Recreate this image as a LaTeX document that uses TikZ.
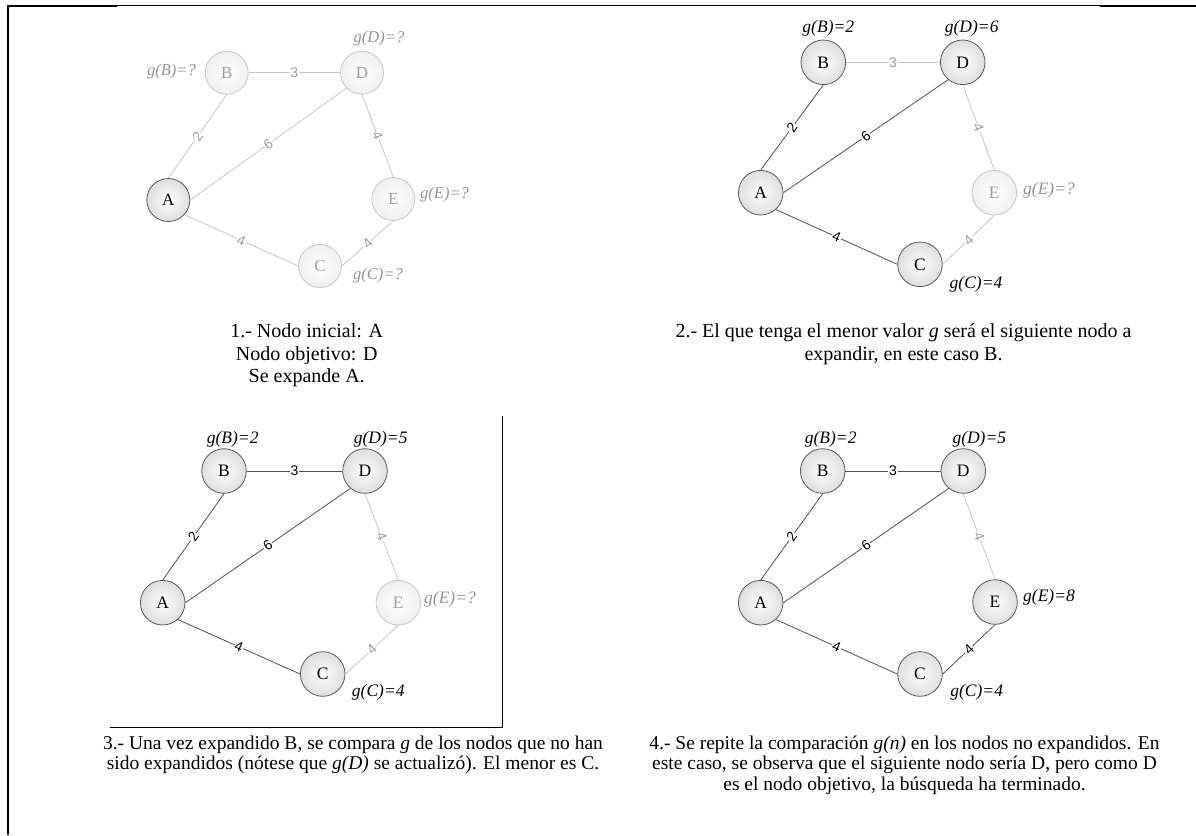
\documentclass[tikz,border=0pt]{standalone}
\usepackage{fontspec}
\setmainfont{Liberation Serif}
\newfontfamily\numfont{Liberation Sans}
\begin{document}
\begin{tikzpicture}[x=1pt,y=-1pt,
  nd/.style={circle, minimum size=44.6pt, inner sep=0pt, draw=black!65, line width=0.8pt,
    shading=radial, inner color=white, outer color=black!13, text=black,
    font=\fontsize{17.5}{17.5}\selectfont},
  ndf/.style={nd, draw=black!22, outer color=black!6, text=black!38},
  small/.style={minimum size=43pt, font=\fontsize{17}{17}\selectfont},
  ed/.style={draw=black!68, line width=0.8pt},
  edf/.style={draw=black!22, line width=0.8pt},
  lab/.style={midway, sloped, fill=white, inner sep=0.8pt, text=black,
    font=\numfont\fontsize{14}{14}\selectfont},
  labf/.style={lab, text=black!38},
  gl/.style={inner sep=0pt, text=black, font=\itshape\fontsize{17.5}{17.5}\selectfont},
  glf/.style={gl, text=black!42},
  glp/.style={glf, font=\itshape\fontsize{16.5}{16.5}\selectfont},
  captext/.style={anchor=base, inner sep=0pt}
]
\useasboundingbox (0,0) rectangle (1196,835);
\fill[white] (0,0) rectangle (1196,835);

% outer frame
\draw[line width=2.2pt] (7.8,835) -- (7.8,5.9) -- (117,5.9);
\draw[line width=1pt] (117,5.9) -- (1100,5.9);
\draw[line width=2.2pt] (1100,5.9) -- (1196,5.9);
% frame of panel 3 picture
\draw[line width=0.9pt] (110,727) -- (502,727) -- (502,416);

%%%%%%%% Panel 1
\node[nd, small] (a1) at (168.3,200) {A};
\node[ndf, small] (b1) at (226.7,72.7) {B};
\node[ndf, small] (d1) at (362,72.7) {D};
\node[ndf, small] (e1) at (393.3,199) {E};
\node[ndf, small] (c1) at (320,266) {C};
\draw[edf] (a1.north) -- node[labf]{2} (b1.south);
\draw[edf] (b1.east) -- node[labf]{3} (d1.west);
\draw[edf] (a1.east) -- node[labf]{6} (d1.225);
\draw[edf] (d1.south) -- node[labf]{4} (e1.north);
\draw[edf] (a1.-42) -- node[labf]{4} (c1.west);
\draw[edf] (c1.east) -- node[labf]{4} (e1.south);
\node[glp, anchor=east] (gb1) at (196,72) {g(B)=?};
\node[glp] (gd1) at (379,39) {g(D)=?};
\node[glp, anchor=west] (ge1) at (420,195) {g(E)=?};
\node[glp] (gc1) at (378,276) {g(C)=?};

%%%%%%%% Panel 2
\node[nd] (a2) at (760.7,192.7) {A};
\node[nd] (b2) at (823.3,62.3) {B};
\node[nd] (d2) at (962.7,62.3) {D};
\node[ndf] (e2) at (994.3,192.7) {E};
\node[nd] (c2) at (920,264.3) {C};
\draw[ed] (a2.north) -- node[lab]{2} (b2.south);
\draw[edf] (b2.east) -- node[labf]{3} (d2.west);
\draw[ed] (a2.east) -- node[lab]{6} (d2.230);
\draw[edf] (d2.south) -- node[labf]{4} (e2.north);
\draw[ed] (a2.-48) -- node[lab]{4} (c2.west);
\draw[edf] (c2.east) -- node[labf]{4} (e2.south);
\node[gl] (gb2) at (828.3,28.3) {g(B)=2};
\node[gl] (gd2) at (971.7,28.3) {g(D)=6};
\node[glf, anchor=west] (ge2) at (1023,190.7) {g(E)=?};
\node[gl] (gc2) at (976,284) {g(C)=4};

%%%%%%%% Panel 3
\node[nd] (a3) at (162.7,602.7) {A};
\node[nd] (b3) at (224,471) {B};
\node[nd] (d3) at (365,471) {D};
\node[ndf] (e3) at (398.3,602.7) {E};
\node[nd] (c3) at (322.7,674) {C};
\draw[ed] (a3.north) -- node[lab]{2} (b3.south);
\draw[ed] (b3.east) -- node[lab]{3} (d3.west);
\draw[ed] (a3.east) -- node[lab]{6} (d3.230);
\draw[edf] (d3.south) -- node[labf]{4} (e3.north);
\draw[ed] (a3.-48) -- node[lab]{4} (c3.west);
\draw[edf] (c3.east) -- node[labf]{4} (e3.south);
\node[gl] (gb3) at (232.7,439.3) {g(B)=2};
\node[gl] (gd3) at (380.7,439.3) {g(D)=5};
\node[glf, anchor=west] (ge3) at (424,599) {g(E)=?};
\node[gl] (gc3) at (378.3,692.3) {g(C)=4};

%%%%%%%% Panel 4
\node[nd] (a4) at (760.7,602.7) {A};
\node[nd] (b4) at (822.7,471) {B};
\node[nd] (d4) at (963.3,471) {D};
\node[nd] (e4) at (995,602) {E};
\node[nd] (c4) at (920,674) {C};
\draw[ed] (a4.north) -- node[lab]{2} (b4.south);
\draw[ed] (b4.east) -- node[lab]{3} (d4.west);
\draw[ed] (a4.east) -- node[lab]{6} (d4.230);
\draw[edf] (d4.south) -- node[labf]{4} (e4.north);
\draw[ed] (a4.-48) -- node[lab]{4} (c4.west);
\draw[ed] (c4.east) -- node[lab]{4} (e4.south);
\node[gl] (gb4) at (830.7,439.3) {g(B)=2};
\node[gl] (gd4) at (979.3,439.3) {g(D)=5};
\node[gl, anchor=west] (ge4) at (1023,597.3) {g(E)=8};
\node[gl] (gc4) at (976.7,692.3) {g(C)=4};

%%%%%%%% Captions
\node[captext] (t1) at (306.7,337.5) {\parbox[t]{560pt}{\centering\fontsize{20}{22.5}\selectfont
  1.- Nodo inicial: A\\Nodo objetivo: D\\Se expande A.}};
\node[captext] (t2) at (903.5,337.5) {\parbox[t]{560pt}{\centering\fontsize{20}{22.5}\selectfont
  2.- El que tenga el menor valor \textit{g} será el siguiente nodo a\\expandir, en este caso B.}};
\node[captext] (t3) at (353,749) {\parbox[t]{580pt}{\centering\fontsize{19.5}{20.7}\selectfont
  3.- Una vez expandido B, se compara \textit{g} de los nodos que no han\\sido expandidos (nótese que \textit{g(D)} se actualizó). El menor es C.}};
\node[captext] (t4) at (904.5,749) {\parbox[t]{580pt}{\centering\fontsize{19.5}{20.7}\selectfont
  4.- Se repite la comparación \textit{g(n)} en los nodos no expandidos. En\\este caso, se observa que el siguiente nodo sería D, pero como D\\es el nodo objetivo, la búsqueda ha terminado.}};
\end{tikzpicture}
\end{document}
